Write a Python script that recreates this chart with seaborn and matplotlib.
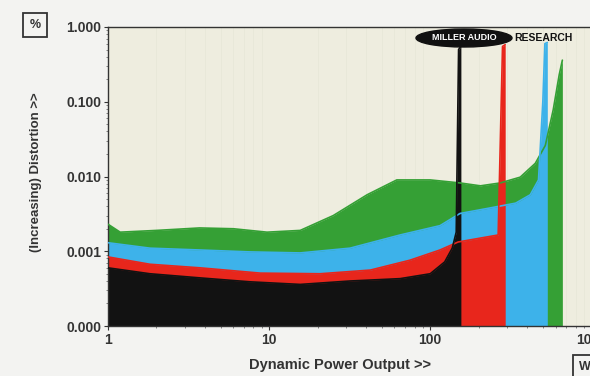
import matplotlib
matplotlib.use("Agg")
import matplotlib.pyplot as plt
import pandas as pd
import seaborn as sns
from matplotlib.patches import Ellipse
from matplotlib.ticker import FixedLocator, FixedFormatter, NullFormatter, LogLocator

# distortion (%) vs dynamic power output (W)
green_power = [1.0, 1.19, 2.0, 3.7, 6.0, 9.7, 15.6, 25, 40.6, 62, 100, 153, 205, 272, 362, 449, 518, 580, 632, 661]
green_dist = [0.0023, 0.0018, 0.0019, 0.00205, 0.0020, 0.0018, 0.0019, 0.0030, 0.0057, 0.0090,
              0.0090, 0.0082, 0.0075, 0.0082, 0.0098, 0.015, 0.026, 0.078, 0.23, 0.36]

blue_power = [1.0, 1.82, 3.7, 7.6, 15.6, 31.8, 65, 115, 153, 236, 339, 418, 470, 500, 515, 533]
blue_dist = [0.0013, 0.0011, 0.00104, 0.00098, 0.00095, 0.0011, 0.00165, 0.0022, 0.0032, 0.0038,
             0.0044, 0.0057, 0.009, 0.1, 0.6, 0.62]

red_power = [1.0, 1.82, 3.73, 8.8, 20.7, 42.5, 75, 115, 149, 205, 264, 281, 292]
red_dist = [0.00084, 0.00067, 0.00060, 0.00051, 0.00050, 0.00056, 0.00076, 0.00104, 0.00133,
            0.0015, 0.00165, 0.55, 0.58]

black_power = [1.0, 1.82, 3.73, 7.6, 15.6, 31.8, 65, 100, 123, 137, 145, 150, 155]
black_dist = [0.0006, 0.0005, 0.00044, 0.00039, 0.00036, 0.0004, 0.00043, 0.0005, 0.00072,
              0.0011, 0.0018, 0.5, 0.55]

y_ticks = [0.0001, 0.001, 0.01, 0.1, 1.0]
y_labels = ["0.000", "0.001", "0.010", "0.100", "1.000"]
x_ticks = [1, 10, 100, 1000]
x_labels = ["1", "10", "100", "1000"]

series = [
    ("green", green_power, green_dist, "#35a035"),
    ("blue", blue_power, blue_dist, "#3db2ea"),
    ("red", red_power, red_dist, "#e8261c"),
    ("black", black_power, black_dist, "#121212"),
]

sns.set_theme(style="ticks")
plt.rcParams["font.family"] = ["Liberation Sans", "DejaVu Sans"]

W, H = 590, 376
fig = plt.figure(figsize=(W / 100, H / 100), dpi=100, facecolor="#f3f3f1")
ax = fig.add_axes([108 / W, 50 / H, 490 / W, 299 / H])
ax.set_facecolor("#eeeddf")
ax.set_xscale("log")
ax.set_yscale("log")
ax.set_xlim(1, 1100)
ax.set_ylim(0.0001, 1.0)

for name, px, py, col in series:
    df = pd.DataFrame({"power": px, "dist": py})
    ax.fill_between(df["power"], 0.0001, df["dist"], color=col, lw=0, zorder=2)
    sns.lineplot(data=df, x="power", y="dist", color=col, lw=1.2, ax=ax,
                 estimator=None, zorder=3)

ax.xaxis.set_major_locator(FixedLocator(x_ticks))
ax.xaxis.set_major_formatter(FixedFormatter(x_labels))
ax.xaxis.set_minor_locator(LogLocator(base=10, subs=range(2, 10)))
ax.xaxis.set_minor_formatter(NullFormatter())
ax.yaxis.set_major_locator(FixedLocator(y_ticks))
ax.yaxis.set_major_formatter(FixedFormatter(y_labels))
ax.yaxis.set_minor_locator(LogLocator(base=10, subs=range(2, 10)))
ax.yaxis.set_minor_formatter(NullFormatter())

ax.grid(which="minor", axis="x", color="#dcdccc", lw=0.6, alpha=0.35, zorder=1)
ax.tick_params(which="major", length=3, width=0.8, color="#333333", labelsize=10,
               labelcolor="#333333", pad=2)
ax.tick_params(which="minor", length=1.5, width=0.5, color="#555555")
for lab in ax.get_xticklabels() + ax.get_yticklabels():
    lab.set_fontweight("bold")

for s in ["left", "bottom", "top", "right"]:
    ax.spines[s].set_color("#333333")
    ax.spines[s].set_linewidth(1.0)

ax.set_xlabel("")
ax.set_ylabel("")
fig.text(340 / W, 1 - 365 / H, "Dynamic Power Output >>", ha="center", va="center",
         fontsize=10.5, fontweight="bold", color="#333333")
fig.text(36 / W, 1 - 172 / H, "(Increasing) Distortion >>", ha="center", va="center",
         rotation=90, fontsize=9.5, fontweight="bold", color="#333333")

fig.text(35 / W, 1 - 25 / H, "%", ha="center", va="center", fontsize=9, fontweight="bold",
         color="#333333", bbox=dict(boxstyle="square,pad=0.5", fc="none", ec="#333333", lw=1.3))
fig.text(579 / W, 1 - 367 / H, "W", ha="left", va="center", fontsize=9, fontweight="bold",
         color="#333333", bbox=dict(boxstyle="square,pad=0.45", fc="none", ec="#333333", lw=1.3))

fig.patches.append(Ellipse((464 / W, 1 - 38 / H), 96 / W, 18 / H, transform=fig.transFigure,
                           fc="#111111", ec="#111111", zorder=5))
fig.text(464 / W, 1 - 38 / H, "MILLER AUDIO", ha="center", va="center", fontsize=6.5,
         fontweight="bold", color="white", zorder=6)
fig.text(514 / W, 1 - 38 / H, "RESEARCH", ha="left", va="center", fontsize=7.5,
         fontweight="bold", color="#111111", zorder=6)

fig.savefig("out.png", dpi=100, facecolor=fig.get_facecolor())
